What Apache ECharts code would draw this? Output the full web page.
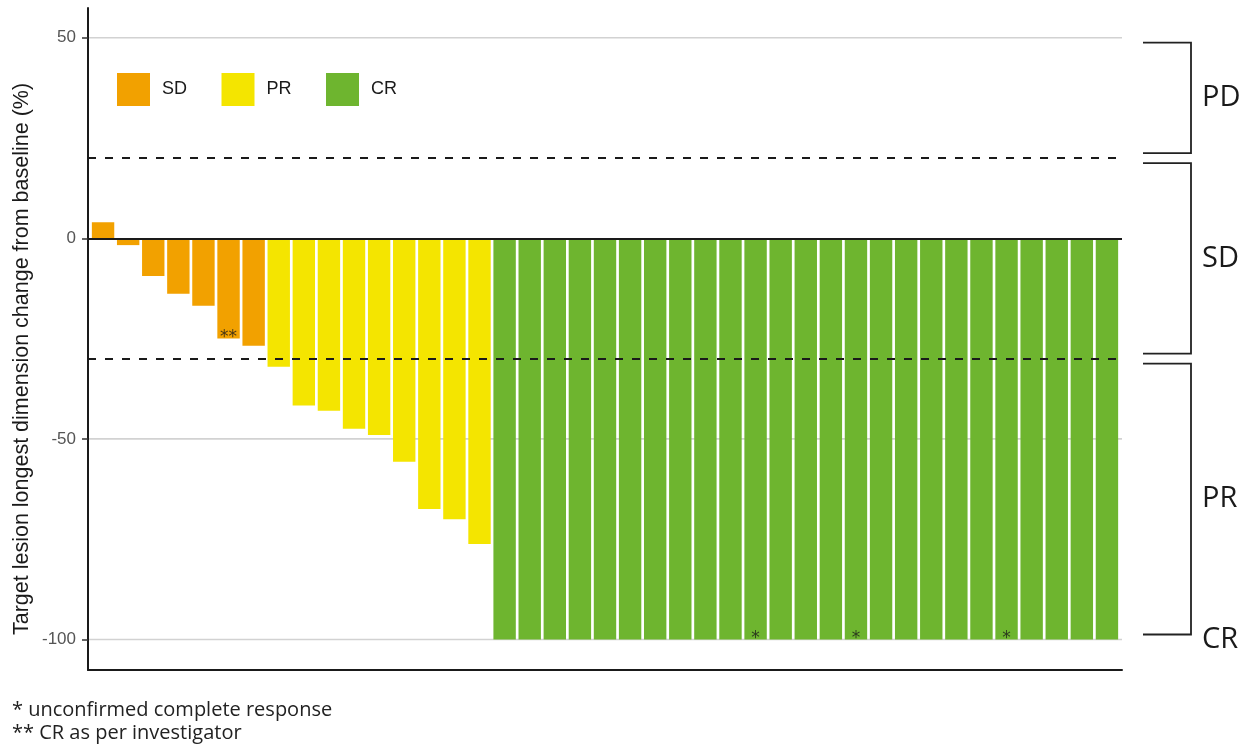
<!DOCTYPE html>
<html>
<head>
<meta charset="utf-8">
<script src="https://cdn.jsdelivr.net/npm/echarts@6/dist/echarts.min.js"></script>
<style>
  html, body { margin: 0; padding: 0; background: #ffffff; }
  #chart { width: 1255px; height: 747px; }
</style>
</head>
<body>
<div id="chart"></div>
<script>
// Best change of target lesion longest dimension from baseline (%), one bar per patient,
// grouped by best overall response.
const sdValues = [4.0, -1.7, -9.4, -13.8, -16.8, -25.0, -26.8];
const prValues = [-32.0, -41.7, -43.0, -47.5, -49.0, -55.7, -67.5, -70.0, -76.2];
const crValues = [-100, -100, -100, -100, -100, -100, -100, -100, -100, -100,
                  -100, -100, -100, -100, -100, -100, -100, -100, -100, -100,
                  -100, -100, -100, -100, -100];

// Footnote marks, keyed by position within their group
const sdMarks = { 5: '**' };
const crMarks = { 10: '*', 14: '*', 20: '*' };

const yTicks = [50, 0, -50, -100];
const thresholds = [20, -30];
const responseBands = [['PD', 20, 50], ['SD', -30, 20], ['PR', -100, -30]];
const crLevel = -100;

const groupNames = ['SD', 'PR', 'CR'];
const groupColors = ['#F2A100', '#F4E500', '#6EB52F'];
const footnotes = ['* unconfirmed complete response', '** CR as per investigator'];
const yTitle = 'Target lesion longest dimension change from baseline (%)';

const nSD = sdValues.length, nPR = prValues.length, nCR = crValues.length;
const total = nSD + nPR + nCR;
const toPoints = (vals, start) => vals.map((v, i) => [start + i + 1, v]);
const groups = [toPoints(sdValues, 0), toPoints(prValues, nSD), toPoints(crValues, nSD + nPR)];

const markPoints = [];
Object.keys(sdMarks).forEach(k => markPoints.push([groups[0][k][0], groups[0][k][1], sdMarks[k]]));
Object.keys(crMarks).forEach(k => markPoints.push([groups[2][k][0], groups[2][k][1], crMarks[k]]));

const chart = echarts.init(document.getElementById('chart'), null, { renderer: 'canvas' });

const barSeries = groupNames.map((name, gi) => ({
  name: name,
  type: 'bar',
  data: groups[gi],
  barWidth: 22.4,
  barGap: '-100%',
  itemStyle: { color: groupColors[gi] },
  z: 3,
  silent: true
}));

chart.setOption({
  animation: false,
  backgroundColor: '#ffffff',
  grid: { left: 88, right: 133, top: 8, bottom: 77, containLabel: false },
  legend: {
    data: groupNames,
    left: 117,
    top: 73,
    padding: 0,
    icon: 'rect',
    itemWidth: 33,
    itemHeight: 33,
    itemGap: 34.5,
    selectedMode: false,
    textStyle: { fontFamily: 'Liberation Sans, Arial', fontSize: 18, color: '#1a1a1a', padding: [0, 0, 0, 7] }
  },
  xAxis: {
    type: 'value',
    min: 0.4,
    max: total + 0.6,
    axisLine: { show: true, onZero: false, lineStyle: { color: '#1a1a1a', width: 2 } },
    axisTick: { show: false },
    axisLabel: { show: false },
    splitLine: { show: false }
  },
  yAxis: {
    type: 'value',
    min: -107.6,
    max: 57.4,
    axisLine: { show: true, onZero: false, lineStyle: { color: '#1a1a1a', width: 2 } },
    axisTick: { show: true, customValues: yTicks, length: 6, lineStyle: { color: '#333', width: 1.5 } },
    axisLabel: {
      customValues: yTicks, margin: 12,
      fontFamily: 'Liberation Sans, Arial', fontSize: 17, color: '#555555'
    },
    splitLine: { show: false }
  },
  series: [
    ...barSeries,
    {
      name: 'reference',
      type: 'line',
      data: [],
      z: 5,
      silent: true,
      markLine: {
        silent: true,
        symbol: 'none',
        label: { show: false },
        data: [
          { yAxis: 0, lineStyle: { color: '#1a1a1a', width: 2, type: 'solid' } },
          ...thresholds.map(v => ({ yAxis: v, lineStyle: { color: '#1a1a1a', width: 2, type: [8, 9] } }))
        ]
      }
    },
    {
      name: 'marks',
      type: 'scatter',
      data: markPoints,
      symbolSize: 0,
      z: 6,
      silent: true,
      label: {
        show: true,
        position: 'inside',
        offset: [0, -1],
        formatter: p => p.data[2],
        fontFamily: 'DejaVu Sans',
        fontSize: 17,
        color: '#1a1a1a'
      }
    }
  ]
});

// Gridlines beneath the bars, response-category brackets on the right,
// all placed through the y scale
const px = v => chart.convertToPixel({ yAxisIndex: 0 }, v);
const gridLeft = 89, gridRight = 1122;
const graphics = [];
yTicks.filter(v => v !== 0).forEach(v => {
  graphics.push({
    type: 'line', z: 0, silent: true,
    shape: { x1: gridLeft, y1: px(v), x2: gridRight, y2: px(v) },
    style: { stroke: '#d2d2d2', lineWidth: 1.6 }
  });
});
const bx0 = 1143, bx1 = 1191, inset = 5;
responseBands.forEach(([label, lo, hi]) => {
  const yTop = px(hi) + inset, yBot = px(lo) - inset;
  graphics.push({
    type: 'polyline', z: 10,
    shape: { points: [[bx0, yTop], [bx1, yTop], [bx1, yBot], [bx0, yBot]] },
    style: { stroke: '#222', lineWidth: 1.8, fill: null },
    silent: true
  });
  graphics.push({
    type: 'text', z: 10,
    x: 1202, y: px((lo + hi) / 2),
    style: { text: label, font: '29px "Open Sans"', fill: '#1a1a1a', textAlign: 'left', textVerticalAlign: 'middle' },
    silent: true
  });
});
graphics.push({
  type: 'text', z: 10,
  x: 1202, y: px(crLevel),
  style: { text: 'CR', font: '29px "Open Sans"', fill: '#1a1a1a', textAlign: 'left', textVerticalAlign: 'middle' },
  silent: true
});
graphics.push({
  type: 'text', z: 10,
  x: 22, y: 359, rotation: Math.PI / 2,
  style: { text: yTitle, font: '21.5px "Liberation Sans", Arial', fill: '#1a1a1a', textAlign: 'center', textVerticalAlign: 'middle' },
  silent: true
});
footnotes.forEach((t, i) => {
  graphics.push({
    type: 'text', z: 10,
    x: 12, y: 710 + i * 23,
    style: { text: t, font: '20px "Open Sans"', fill: '#222', textAlign: 'left', textVerticalAlign: 'middle' },
    silent: true
  });
});
chart.setOption({ graphic: { elements: graphics } });
</script>
</body>
</html>
